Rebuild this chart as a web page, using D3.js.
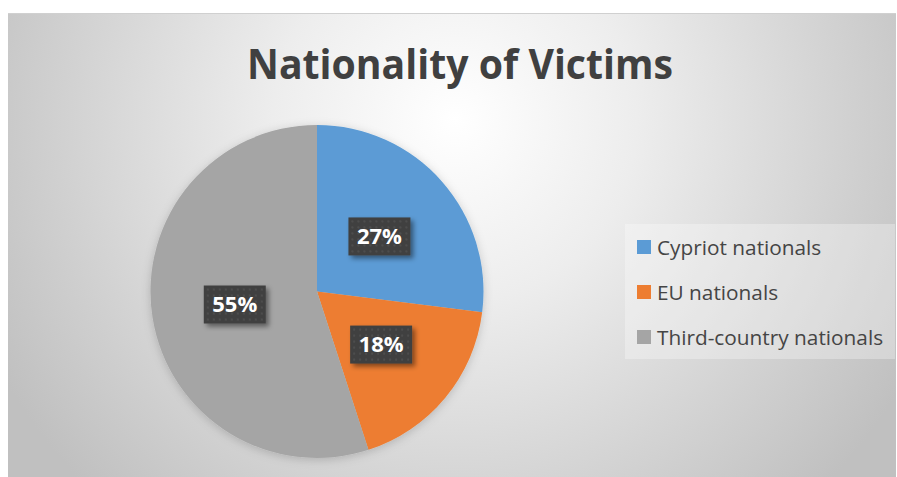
<!DOCTYPE html>
<html lang="en">
<head>
<meta charset="utf-8">
<title>Nationality of Victims</title>
<style>
    body { margin: 0; background: #fff; }
    svg { display: block; }
    .title { font: bold 42px "Open Sans", sans-serif; fill: #404040; }
    .legend text { font: 20.8px "Open Sans", sans-serif; fill: #454545; }
    .label text { font: bold 22px "Open Sans", sans-serif; fill: #fff; }
</style>
</head>
<body>
<div id="chart"></div>
<script src="https://d3js.org/d3.v7.min.js"></script>
<script>
var categories = ["Cypriot nationals", "EU nationals", "Third-country nationals"];
var values = [27, 18, 55];
var labels = ["27%", "18%", "55%"];

var width = 897, height = 477;
var cx = 317, cy = 291.5, radius = 166.5;

var color = d3.scaleOrdinal()
    .domain(categories)
    .range(["#5b9bd5", "#ed7d31", "#a5a5a5"]);

var svg = d3.select("#chart").append("svg")
    .attr("width", width)
    .attr("height", height);

var defs = svg.append("defs");

var bg = defs.append("radialGradient")
    .attr("id", "bg")
    .attr("gradientUnits", "userSpaceOnUse")
    .attr("cx", 455).attr("cy", 120).attr("r", 520);
bg.append("stop").attr("offset", "0%").attr("stop-color", "#ffffff");
bg.append("stop").attr("offset", "35%").attr("stop-color", "#ededed");
bg.append("stop").attr("offset", "100%").attr("stop-color", "#c0c0c0");

var dots = defs.append("pattern")
    .attr("id", "dots")
    .attr("patternUnits", "userSpaceOnUse")
    .attr("width", 6).attr("height", 6);
dots.append("rect").attr("width", 6).attr("height", 6).attr("fill", "#404040");
dots.append("rect").attr("x", 2).attr("y", 2).attr("width", 2).attr("height", 2).attr("fill", "#4e4e4e");

var shadow = defs.append("filter").attr("id", "shadow")
    .attr("x", "-30%").attr("y", "-30%").attr("width", "160%").attr("height", "160%");
shadow.append("feDropShadow")
    .attr("dx", 3).attr("dy", 3).attr("stdDeviation", 2.5)
    .attr("flood-color", "#000").attr("flood-opacity", 0.45);

var pieShadow = defs.append("filter").attr("id", "pieShadow")
    .attr("x", "-10%").attr("y", "-10%").attr("width", "120%").attr("height", "120%");
pieShadow.append("feDropShadow")
    .attr("dx", 0).attr("dy", 2).attr("stdDeviation", 5)
    .attr("flood-color", "#000").attr("flood-opacity", 0.18);

// chart area
svg.append("rect")
    .attr("x", 8).attr("y", 13)
    .attr("width", 888).attr("height", 464)
    .attr("fill", "url(#bg)");
svg.append("line")
    .attr("x1", 8).attr("x2", 896).attr("y1", 13.5).attr("y2", 13.5)
    .attr("stroke", "#d0d0d0");

svg.append("text")
    .attr("class", "title")
    .attr("x", 460).attr("y", 79)
    .attr("text-anchor", "middle")
    .attr("textLength", 426)
    .attr("lengthAdjust", "spacingAndGlyphs")
    .text("Nationality of Victims");

var pie = d3.pie().sort(null).value(function(d) { return d; });
var arcs = pie(values);
var arc = d3.arc().innerRadius(0).outerRadius(radius);

var g = svg.append("g")
    .attr("transform", "translate(" + cx + "," + cy + ")");

g.append("g")
    .attr("filter", "url(#pieShadow)")
    .selectAll("path")
    .data(arcs)
    .enter().append("path")
    .attr("d", arc)
    .attr("fill", function(d, i) { return color(categories[i]); });

var label = g.selectAll(".label")
    .data(arcs)
    .enter().append("g")
    .attr("class", "label")
    .attr("transform", function(d) { return "translate(" + arc.centroid(d) + ")"; });

label.append("rect")
    .attr("x", -31).attr("y", -19)
    .attr("width", 62).attr("height", 38)
    .attr("fill", "url(#dots)")
    .attr("filter", "url(#shadow)");

label.append("text")
    .attr("text-anchor", "middle")
    .attr("dy", "0.36em")
    .text(function(d, i) { return labels[i]; });

// legend
svg.append("rect")
    .attr("x", 625).attr("y", 224)
    .attr("width", 270).attr("height", 135)
    .attr("fill", "#ffffff").attr("fill-opacity", 0.3);

var legend = svg.selectAll(".legend")
    .data(categories)
    .enter().append("g")
    .attr("class", "legend")
    .attr("transform", function(d, i) { return "translate(637," + (247 + i * 45) + ")"; });

legend.append("rect")
    .attr("x", 0).attr("y", -7)
    .attr("width", 14).attr("height", 14)
    .attr("fill", function(d) { return color(d); });

legend.append("text")
    .attr("x", 20).attr("y", 7.5)
    .text(function(d) { return d; });
</script>
</body>
</html>
